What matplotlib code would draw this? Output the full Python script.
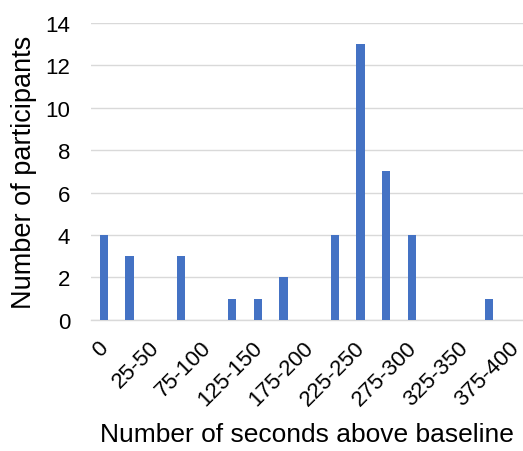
import matplotlib.pyplot as plt
from matplotlib.transforms import ScaledTranslation

plt.rcParams['font.family'] = ['Liberation Sans', 'DejaVu Sans']

# Histogram bins and counts
categories = ['0', '0-25', '25-50', '50-75', '75-100', '100-125', '125-150',
              '150-175', '175-200', '200-225', '225-250', '250-275',
              '275-300', '300-325', '325-350', '350-375', '375-400']
counts = [4, 3, 0, 3, 0, 1, 1, 2, 0, 4, 13, 7, 4, 0, 0, 1, 0]

fig = plt.figure(figsize=(5.23, 4.52), dpi=100)
ax = fig.add_axes([0.174, 0.29, 0.826, 0.657])

x = list(range(len(categories)))
ax.bar(x, counts, width=0.32, color='#4472C4', zorder=3)

ax.set_xlim(-0.5, len(categories) - 0.67)
ax.set_ylim(0, 14)
ax.set_yticks(range(0, 15, 2))
ax.set_xticks(x[::2])
ax.set_xticklabels(categories[::2], rotation=45, ha='right',
                   rotation_mode='anchor', fontsize=16)
ax.tick_params(axis='y', labelsize=16, length=0, pad=15)
ax.tick_params(axis='x', length=0, pad=12)

# nudge the rotated labels a little to the left
shift = ScaledTranslation(-6 / 100, 0, fig.dpi_scale_trans)
for lab in ax.get_xticklabels():
    lab.set_transform(lab.get_transform() + shift)

ax.grid(axis='y', color='#d9d9d9', linewidth=1, zorder=0)
for s in ['top', 'right', 'left']:
    ax.spines[s].set_visible(False)
ax.spines['bottom'].set_color('#d9d9d9')
ax.spines['bottom'].set_linewidth(1)

ax.set_ylabel('Number of participants', fontsize=19.5, labelpad=6)
ax.set_xlabel('Number of seconds above baseline', fontsize=19, labelpad=9)

fig.savefig('out.png', dpi=100)
